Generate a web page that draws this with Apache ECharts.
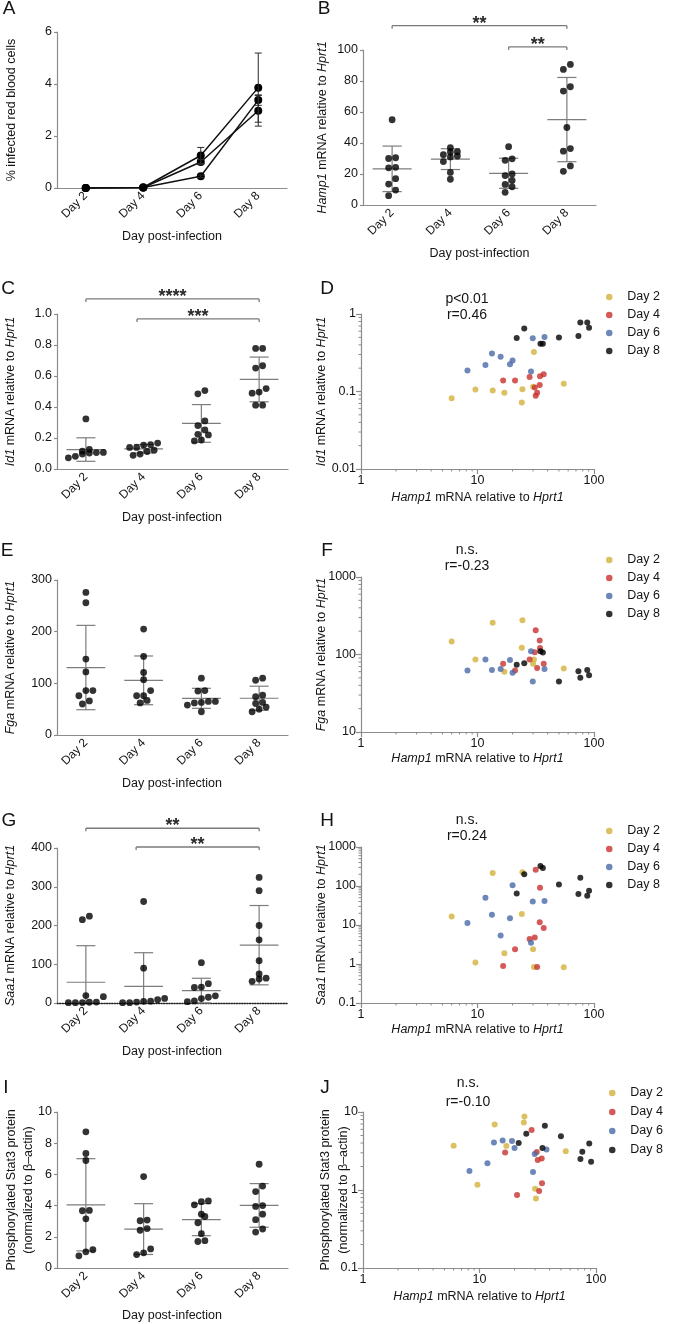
<!DOCTYPE html>
<html><head><meta charset="utf-8">
<script src="https://cdn.jsdelivr.net/npm/echarts@6/dist/echarts.min.js"></script>
<style>html,body{margin:0;padding:0;background:#fff}#c{width:673px;height:1324px}</style>
</head><body><div id="c"></div>
<script>
// ---------------- DATA ----------------
const days = ['Day 2', 'Day 4', 'Day 6', 'Day 8'];
const dayColors = ['#d3b13c', '#c8312d', '#4a69a8', '#000000'];

// Panel A: % infected red blood cells (three experiments), mean and SD
const parasitemiaExp1 = [0, 0.02, 1.25, 3.86];
const parasitemiaExp2 = [0, 0.02, 0.45, 3.38];
const parasitemiaExp3 = [0, 0.02, 1.00, 2.97];
const parasitemiaSd1 = [0, 0, 0.31, 1.33];
const parasitemiaSd2 = [0, 0, 0.05, 0.20];
const parasitemiaSd3 = [0, 0, 0.10, 0.59];

// Hamp1 mRNA relative to Hprt1 (per mouse, same order in all gene arrays)
const hamp1Day2 = [6.0, 9.6, 13.5, 17.0, 24.0, 24.3, 30.0, 30.5, 55.0];
const hamp1Day4 = [16.6, 21.0, 28.0, 31.0, 31.6, 32.5, 34.2, 34.4, 37.0];
const hamp1Day6 = [8.2, 11.7, 13.3, 15.8, 19.0, 20.0, 28.8, 29.8, 37.6];
const hamp1Day8 = [21.7, 25.2, 34.7, 36.4, 50.0, 73.5, 76.3, 87.5, 90.7];

// Id1 mRNA relative to Hprt1
const id1Day2 = [0.082, 0.106, 0.103, 0.096, 0.072, 0.107, 0.115, 0.323, 0.126];
const id1Day4 = [0.139, 0.139, 0.154, 0.113, 0.088, 0.096, 0.121, 0.157, 0.167];
const id1Day6 = [0.187, 0.220, 0.310, 0.280, 0.224, 0.252, 0.181, 0.485, 0.506];
const id1Day8 = [0.489, 0.651, 0.412, 0.412, 0.496, 0.519, 0.778, 0.778, 0.666];

// Fga mRNA relative to Hprt1
const fgaDay2 = [147, 86, 256, 60, 122, 276, 76, 86, 66];
const fgaDay4 = [76, 62, 86, 107, 205, 67, 152, 121, 76];
const fgaDay6 = [62, 86, 63, 65, 85, 58, 110, 45, 65];
const fgaDay8 = [74, 77, 110, 106, 45, 61, 50, 63, 54];

// Saa1 mRNA relative to Hprt1
const saa1Day2 = [16.4, 1.1, 215, 1.9, 19.1, 224, 2.4, 0.84, 0.82];
const saa1Day4 = [0.89, 2.4, 4.4, 4.8, 262, 0.84, 11.7, 90, 8.4];
const saa1Day6 = [11.3, 50, 18.4, 5.4, 14.8, 104, 3.5, 40, 41];
const saa1Day8 = [64, 200, 324, 290, 109, 62, 163, 56, 75];

// Phosphorylated Stat3 protein (normalized to beta-actin)
const pstat3Day2 = [3.69, 1.17, 6.89, 3.67, 7.34, 8.73, 1.04, 0.78, 3.15];
const pstat3Day4 = [3.03, 0.86, 5.86, 3.07, 2.42, 0.97, 2.53, 1.22, null];
const pstat3Day6 = [1.75, 2.20, 4.05, 4.30, 4.25, 3.45, 1.70, 2.90, 3.30];
const pstat3Day8 = [4.00, 5.25, 3.45, 6.65, 4.90, 2.50, 3.10, 3.95, 2.30];

// Tick values
const aYTicks = [0, 2, 4, 6];
const bYTicks = [0, 20, 40, 60, 80, 100];
const cYTicks = [0, 0.2, 0.4, 0.6, 0.8, 1.0];
const eYTicks = [0, 100, 200, 300];
const gYTicks = [0, 100, 200, 300, 400];
const iYTicks = [0, 2, 4, 6, 8, 10];
const hampLogTicks = [1, 10, 100];
const dYTicks = [0.01, 0.1, 1];
const fYTicks = [10, 100, 1000];
const hYTicks = [0.1, 1, 10, 100, 1000];
const jYTicks = [0.1, 1, 10];

// Significance brackets: [from day-position, to day-position, level]
const bSigSpans = [[1, 4, 115.7], [3, 4, 102]];
const bSigLabels = ['**', '**'];
const cSigSpans = [[1, 4, 1.097], [1.885, 4, 0.968]];
const cSigLabels = ['****', '***'];
const gSigSpans = [[1, 4, 451], [1.87, 4, 402.6]];
const gSigLabels = ['**', '**'];

// Correlation annotations
const dStats = ['p<0.01', 'r=0.46'];
const fStats = ['n.s.', 'r=-0.23'];
const hStats = ['n.s.', 'r=0.24'];
const jStats = ['n.s.', 'r=-0.10'];

// ---------------- LAYOUT ----------------
const FONT = '"Liberation Sans", Arial, Helvetica, sans-serif';
const AXC = '#8c8c8c';
const TXT = '#141414';
const GRIDS = {
  A: {left: 57, top: 32, width: 230, height: 156},
  B: {left: 363, top: 50, width: 233, height: 155},
  C: {left: 57, top: 314, width: 231, height: 155},
  D: {left: 361, top: 314, width: 233, height: 155},
  E: {left: 57, top: 580, width: 231, height: 155},
  F: {left: 361, top: 577, width: 233, height: 155},
  G: {left: 57, top: 848, width: 231, height: 155},
  H: {left: 361, top: 847, width: 233, height: 156},
  I: {left: 57, top: 1112, width: 231, height: 156},
  J: {left: 363, top: 1112, width: 233, height: 156}
};

const opt = {animation: false, backgroundColor: '#fff', grid: [], xAxis: [], yAxis: [], series: [], legend: [], graphic: []};

function addGrid(k) { opt.grid.push(Object.assign({containLabel: false}, GRIDS[k])); return opt.grid.length - 1; }
function ls(extra) { return Object.assign({color: AXC, width: 1.2}, extra || {}); }
function lineEl(a, b, stroke, w) {
  return {type: 'line', shape: {x1: a[0], y1: a[1], x2: b[0], y2: b[1]}, style: {stroke: stroke, lineWidth: w}};
}
function yValAxis(g, ticks, fmt) {
  const ax = {gridIndex: g, type: 'value', min: ticks[0], max: ticks[ticks.length - 1], interval: ticks[1] - ticks[0],
    splitLine: {show: false}, axisLine: {show: true, onZero: false, lineStyle: ls()},
    axisTick: {show: true, length: 3, lineStyle: ls()},
    axisLabel: {fontSize: 12.5, color: TXT, fontFamily: FONT, margin: 5}};
  if (fmt) ax.axisLabel.formatter = fmt;
  opt.yAxis.push(ax);
  return opt.yAxis.length - 1;
}
function catAxis(g, dotted) {
  opt.xAxis.push({gridIndex: g, type: 'category', data: days, boundaryGap: true,
    axisLine: {onZero: false, lineStyle: dotted ? {color: '#222', width: 1.3, type: 'dotted'} : ls()},
    axisTick: {alignWithLabel: true, length: 4, lineStyle: ls()},
    axisLabel: {rotate: 45, fontSize: 12, color: TXT, fontFamily: FONT, margin: 6, interval: 0}});
  return opt.xAxis.length - 1;
}
function txt(x, y, text, o) {
  o = o || {};
  const fs = o.fs || 12.5;
  opt.graphic.push({type: 'text', x: x, y: y, rotation: o.rot || 0, silent: true, z: 100,
    style: {text: text, fontSize: fs, fontFamily: FONT, fontWeight: o.fw || 'normal', fill: TXT,
      align: o.align || 'center', verticalAlign: 'middle', textAlign: o.align || 'center', textVerticalAlign: 'middle',
      rich: {i: {fontStyle: 'italic', fontSize: fs, fontFamily: FONT, fill: TXT}, n: {fontSize: fs, fontFamily: FONT, fill: TXT}}}});
}
function meanSd(vals) {
  const v = vals.filter(x => x != null);
  const m = v.reduce((a, b) => a + b, 0) / v.length;
  const s = Math.sqrt(v.reduce((a, b) => a + (b - m) * (b - m), 0) / (v.length - 1));
  return [m, s];
}
// horizontal spreading of dots (rows of overlapping values centred on the category)
const DOT = 6.5, SPACING = 7;
function swarm(vals, pxPerUnit, band) {
  const idx = vals.map((v, i) => i).filter(i => vals[i] != null).sort((a, b) => vals[a] - vals[b]);
  const rows = []; let cur = null;
  idx.forEach(i => {
    if (cur && (vals[i] - vals[cur[0]]) * pxPerUnit < DOT) cur.push(i);
    else { cur = [i]; rows.push(cur); }
  });
  const off = vals.map(() => 0);
  rows.forEach(r => r.forEach((i, k) => { off[i] = (k - (r.length - 1) / 2) * SPACING / band; }));
  return off;
}

function dotPlot(k, groups, ticks, fmt, sigSpans, sigLabels, dotted) {
  const g = addGrid(k);
  catAxis(g, dotted);
  const xv = opt.xAxis.push({gridIndex: g, type: 'value', min: 0.5, max: 4.5, show: false}) - 1;
  const y = yValAxis(g, ticks, fmt);
  const ymin = ticks[0], ymax = ticks[ticks.length - 1];
  const pxPerUnit = GRIDS[k].height / (ymax - ymin), band = GRIDS[k].width / 4;
  const stats = [];
  groups.forEach((vals, d) => {
    const off = swarm(vals, pxPerUnit, band);
    const pts = [];
    vals.forEach((v, i) => { if (v != null) pts.push([d + 1 + off[i], v]); });
    opt.series.push({type: 'scatter', name: k + ' ' + days[d], xAxisIndex: xv, yAxisIndex: y, data: pts,
      symbol: 'circle', symbolSize: 6.8, itemStyle: {color: '#000'}, z: 3, silent: true});
    const ms = meanSd(vals);
    stats.push([d + 1, ms[0], ms[1]]);
  });
  opt.series.push({type: 'custom', xAxisIndex: xv, yAxisIndex: y, data: stats, z: 2, silent: true,
    renderItem: function (p, api) {
      const x = api.value(0), m = api.value(1), s = api.value(2);
      const hi = Math.min(m + s, ymax), lo = Math.max(m - s, ymin);
      const C = '#7d7d7d', W = 1.2;
      const ch = [lineEl(api.coord([x - 0.335, m]), api.coord([x + 0.335, m]), C, W),
        lineEl(api.coord([x, lo]), api.coord([x, hi]), C, W),
        lineEl(api.coord([x - 0.165, m + s]), api.coord([x + 0.165, m + s]), C, W)];
      if (m - s > ymin) ch.push(lineEl(api.coord([x - 0.165, m - s]), api.coord([x + 0.165, m - s]), C, W));
      return {type: 'group', children: ch};
    }});
  if (sigSpans) {
    opt.series.push({type: 'custom', xAxisIndex: xv, yAxisIndex: y, data: sigSpans, z: 4, silent: true, clip: false,
      renderItem: function (p, api) {
        const a = api.coord([api.value(0), api.value(2)]), b = api.coord([api.value(1), api.value(2)]);
        const C = '#7a7a7a', W = 1.3;
        return {type: 'group', children: [
          lineEl(a, b, C, W), lineEl(a, [a[0], a[1] + 3], C, W), lineEl(b, [b[0], b[1] + 3], C, W),
          {type: 'text', x: (a[0] + b[0]) / 2, y: a[1] - 2,
            style: {text: sigLabels[p.dataIndex], fontSize: 18, fontWeight: 'bold', fontFamily: FONT, fill: '#2a2a2a',
              align: 'center', verticalAlign: 'middle', textAlign: 'center', textVerticalAlign: 'middle'}}]};
      }});
  }
}

const hampGroups = [hamp1Day2, hamp1Day4, hamp1Day6, hamp1Day8];
function logFmt(v) { return String(+(+v).toPrecision(6)); }
function minorValues(ticks) {
  const out = [];
  for (let i = 0; i < ticks.length - 1; i++) for (let m = 2; m <= 9; m++) out.push(+(ticks[i] * m).toPrecision(6));
  return out;
}
function corrPlot(k, yGroups, yTicks, legLeft, legTop, legGap) {
  const g = addGrid(k);
  const xa = opt.xAxis.push({gridIndex: g, type: 'log', logBase: 10, min: hampLogTicks[0], max: hampLogTicks[hampLogTicks.length - 1],
    splitLine: {show: false}, axisLine: {onZero: false, lineStyle: ls()}, axisTick: {length: 5, lineStyle: ls()},
    axisLabel: {fontSize: 12.5, color: TXT, fontFamily: FONT, margin: 5, formatter: logFmt}}) - 1;
  const ya = opt.yAxis.push({gridIndex: g, type: 'log', logBase: 10, min: yTicks[0], max: yTicks[yTicks.length - 1],
    splitLine: {show: false}, axisLine: {onZero: false, lineStyle: ls()}, axisTick: {length: 5, lineStyle: ls()},
    axisLabel: {fontSize: 12.5, color: TXT, fontFamily: FONT, margin: 5, formatter: logFmt}}) - 1;
  yGroups.forEach((ys, d) => {
    const pts = [];
    ys.forEach((v, i) => { if (v != null) pts.push([hampGroups[d][i], v]); });
    opt.series.push({type: 'scatter', name: days[d], xAxisIndex: xa, yAxisIndex: ya, data: pts,
      symbol: 'circle', symbolSize: 6, itemStyle: {color: dayColors[d]}, z: 3, silent: true});
  });
  const xMin = hampLogTicks[0], yMin = yTicks[0];
  opt.series.push({type: 'custom', xAxisIndex: xa, yAxisIndex: ya, silent: true, z: 2,
    data: minorValues(hampLogTicks).map(v => [v, yMin]),
    renderItem: function (p, api) { const q = api.coord([api.value(0), api.value(1)]); return lineEl(q, [q[0], q[1] + 2.5], AXC, 1); }});
  opt.series.push({type: 'custom', xAxisIndex: xa, yAxisIndex: ya, silent: true, z: 2,
    data: minorValues(yTicks).map(v => [xMin, v]),
    renderItem: function (p, api) { const q = api.coord([api.value(0), api.value(1)]); return lineEl(q, [q[0] - 2.5, q[1]], AXC, 1); }});
  opt.legend.push({data: days, orient: 'vertical', left: legLeft, top: legTop, icon: 'circle', itemWidth: 26, itemHeight: 6.5,
    itemGap: legGap, selectedMode: false, padding: 0,
    textStyle: {fontSize: 12.5, lineHeight: 14, color: TXT, fontFamily: FONT}});
}

// ---------------- PANEL A ----------------
(function () {
  const g = addGrid('A');
  const xa = catAxis(g, false);
  const ya = yValAxis(g, aYTicks);
  const exps = [parasitemiaExp1, parasitemiaExp2, parasitemiaExp3];
  const sds = [parasitemiaSd1, parasitemiaSd2, parasitemiaSd3];
  const err = [];
  exps.forEach((e, j) => {
    opt.series.push({type: 'line', xAxisIndex: xa, yAxisIndex: ya, data: e, symbol: 'circle', symbolSize: 8,
      itemStyle: {color: '#000'}, lineStyle: {color: '#111', width: 1.5}, z: 3, silent: true});
    e.forEach((v, i) => { if (sds[j][i] > 0) err.push([i, v, sds[j][i]]); });
  });
  opt.series.push({type: 'custom', xAxisIndex: xa, yAxisIndex: ya, data: err, z: 4, silent: true,
    renderItem: function (p, api) {
      const i = api.value(0), v = api.value(1), s = api.value(2);
      const t = api.coord([i, v + s]), b = api.coord([i, v - s]);
      const C = '#2a2a2a';
      return {type: 'group', children: [lineEl(t, b, C, 1), lineEl([t[0] - 3.5, t[1]], [t[0] + 3.5, t[1]], C, 1),
        lineEl([b[0] - 3.5, b[1]], [b[0] + 3.5, b[1]], C, 1)]};
    }});
})();

// ---------------- DOT PLOTS ----------------
dotPlot('B', [hamp1Day2, hamp1Day4, hamp1Day6, hamp1Day8], bYTicks, null, bSigSpans, bSigLabels, false);
dotPlot('C', [id1Day2, id1Day4, id1Day6, id1Day8], cYTicks, v => (+v).toFixed(1), cSigSpans, cSigLabels, false);
dotPlot('E', [fgaDay2, fgaDay4, fgaDay6, fgaDay8], eYTicks, null, null, null, false);
dotPlot('G', [saa1Day2, saa1Day4, saa1Day6, saa1Day8], gYTicks, null, gSigSpans, gSigLabels, true);
dotPlot('I', [pstat3Day2, pstat3Day4, pstat3Day6, pstat3Day8], iYTicks, null, null, null, false);

// ---------------- CORRELATION PLOTS ----------------
corrPlot('D', [id1Day2, id1Day4, id1Day6, id1Day8], dYTicks, 606, 290, 4);
corrPlot('F', [fgaDay2, fgaDay4, fgaDay6, fgaDay8], fYTicks, 606, 553, 4);
corrPlot('H', [saa1Day2, saa1Day4, saa1Day6, saa1Day8], hYTicks, 606, 824, 4);
corrPlot('J', [pstat3Day2, pstat3Day4, pstat3Day6, pstat3Day8], jYTicks, 609, 1086, 5);

// ---------------- TEXT ----------------
const letters = [['A', 9, 9], ['B', 324, 9], ['C', 8, 289], ['D', 327, 289], ['E', 7, 551], ['F', 327, 551],
  ['G', 9, 821], ['H', 327, 821], ['I', 6, 1088], ['J', 325, 1088]];
letters.forEach(l => txt(l[1], l[2], l[0], {fs: 19}));

const R = Math.PI / 2;
const dpi = 'Day post-infection';
const hampTitle = '{i|Hamp1}{n| mRNA relative to }{i|Hprt1}';
txt(172, 236.5, dpi); txt(479.5, 253.5, dpi);
txt(172, 518, dpi); txt(477.5, 498, hampTitle);
txt(172, 784, dpi); txt(477.5, 759, hampTitle);
txt(172, 1052, dpi); txt(477.5, 1030, hampTitle);
txt(172, 1316, dpi); txt(479.5, 1297, hampTitle);

txt(12, 110, '% infected red blood cells', {rot: R});
txt(323, 127.5, hampTitle, {rot: R});
txt(11, 391.5, '{i|Id1}{n| mRNA relative to }{i|Hprt1}', {rot: R});
txt(322, 391.5, '{i|Id1}{n| mRNA relative to }{i|Hprt1}', {rot: R});
txt(11, 657.5, '{i|Fga}{n| mRNA relative to }{i|Hprt1}', {rot: R});
txt(322, 654.5, '{i|Fga}{n| mRNA relative to }{i|Hprt1}', {rot: R});
txt(11, 925.5, '{i|Saa1}{n| mRNA relative to }{i|Hprt1}', {rot: R});
txt(322, 925, '{i|Saa1}{n| mRNA relative to }{i|Hprt1}', {rot: R});
txt(12, 1190, 'Phosphorylated Stat3 protein', {rot: R});
txt(29, 1190, '(normalized to β–actin)', {rot: R});
txt(326, 1190, 'Phosphorylated Stat3 protein', {rot: R});
txt(343.5, 1190, '(normalized to β–actin)', {rot: R});

txt(467, 299, dStats[0], {fs: 14}); txt(467, 315, dStats[1], {fs: 14});
txt(467, 550, fStats[0], {fs: 14}); txt(467, 566, fStats[1], {fs: 14});
txt(467, 820, hStats[0], {fs: 14}); txt(467, 836, hStats[1], {fs: 14});
txt(468, 1083, jStats[0], {fs: 14}); txt(468, 1102, jStats[1], {fs: 14});

const chart = echarts.init(document.getElementById('c'), null, {renderer: 'canvas'});
chart.setOption(opt);
</script></body></html>
